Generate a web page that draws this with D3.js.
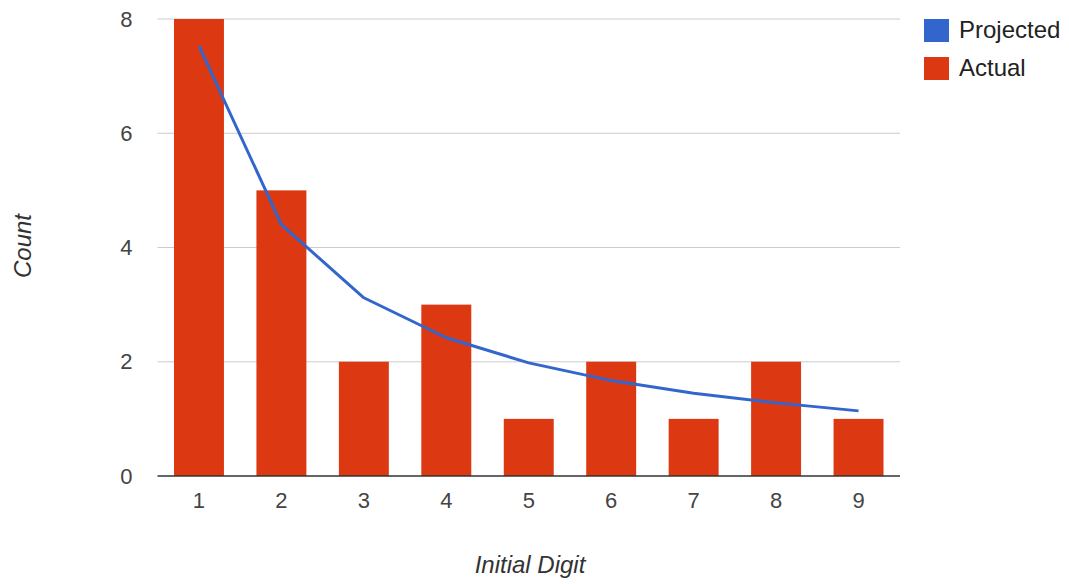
<!DOCTYPE html>
<html><head><meta charset="utf-8">
<script src="https://cdn.jsdelivr.net/npm/d3@7"></script>
<style>
body{margin:0;background:#fff;}
text{font-family:"Liberation Sans",Arial,sans-serif;}
</style></head>
<body>
<svg id="chart" width="1069" height="584"></svg>
<script>
const digits = ["1","2","3","4","5","6","7","8","9"];
const actual = [8,5,2,3,1,2,1,2,1];
const projected = [7.53,4.40,3.12,2.42,1.98,1.67,1.45,1.28,1.14];
const yTicks = [0,2,4,6,8];
const seriesNames = ["Projected","Actual"];
const colors = ["#3366cc","#dc3912"];

(function(){
const svg = d3.select("#chart");
const pLeft = 157.5, pRight = 900, pTop = 19, pBottom = 476;
const tickFs = 22, titleFs = 24, legendFs = 24;

const x = d3.scaleBand().domain(digits).range([pLeft, pRight]).paddingInner(0.394).paddingOuter(0.2);
const y = d3.scaleLinear().domain([0,8]).range([pBottom, pTop]);

// gridlines
svg.append("g").selectAll("line").data(yTicks.filter(d=>d>0)).join("line")
  .attr("x1", pLeft).attr("x2", pRight)
  .attr("y1", d=>y(d)).attr("y2", d=>y(d))
  .attr("stroke","#cccccc").attr("stroke-width",1);

// y axis labels
const yAxis = d3.axisLeft(y).tickValues(yTicks).tickSize(0).tickPadding(0).tickFormat(d3.format("d"));
const gy = svg.append("g").attr("transform",`translate(${pLeft-25},0)`).call(yAxis);
gy.select(".domain").remove();
gy.selectAll("text").attr("font-size",tickFs).attr("fill","#444").attr("font-family","Liberation Sans, Arial, sans-serif");

// bars
svg.append("g").selectAll("rect").data(actual).join("rect")
  .attr("x",(d,i)=>x(digits[i])).attr("width",x.bandwidth())
  .attr("y",d=>y(d)).attr("height",d=>y(0)-y(d))
  .attr("fill",colors[1]);

// baseline
svg.append("line").attr("x1",pLeft).attr("x2",pRight).attr("y1",y(0)).attr("y2",y(0))
  .attr("stroke","#333").attr("stroke-width",1.5);

// x axis labels
const xAxis = d3.axisBottom(x).tickSize(0).tickPadding(0);
const gx = svg.append("g").attr("transform",`translate(0,${pBottom+16})`).call(xAxis);
gx.select(".domain").remove();
gx.selectAll("text").attr("font-size",tickFs).attr("fill","#444").attr("font-family","Liberation Sans, Arial, sans-serif");

// line
const line = d3.line().x((d,i)=>x(digits[i])+x.bandwidth()/2).y(d=>y(d));
svg.append("path").datum(projected).attr("d",line)
  .attr("fill","none").attr("stroke",colors[0]).attr("stroke-width",3).attr("stroke-linejoin","round");

// axis titles
svg.append("text").attr("x",530).attr("y",573).attr("text-anchor","middle")
  .attr("font-size",titleFs).attr("font-style","italic").attr("fill","#333").text("Initial Digit");
svg.append("text").attr("transform","translate(31,246) rotate(-90)").attr("text-anchor","middle")
  .attr("font-size",titleFs).attr("font-style","italic").attr("fill","#333").text("Count");

// legend
const lg = svg.append("g").selectAll("g").data(seriesNames).join("g")
  .attr("transform",(d,i)=>`translate(924,${19+i*38})`);
lg.append("rect").attr("width",25).attr("height",23).attr("fill",(d,i)=>colors[i]);
lg.append("text").attr("x",35).attr("y",19).attr("font-size",legendFs).attr("fill","#222").text(d=>d);
})();
</script>
</body></html>
